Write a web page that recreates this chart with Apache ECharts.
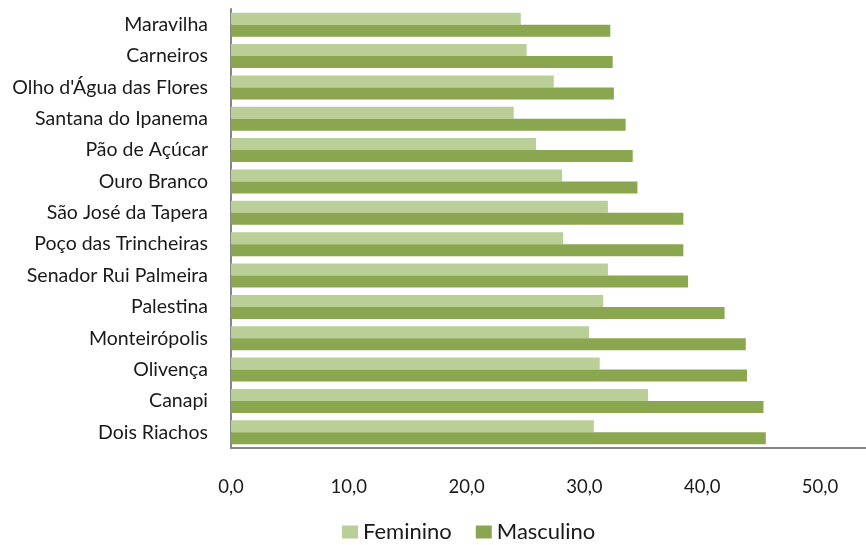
<!DOCTYPE html>
<html>
<head>
<meta charset="utf-8">
<script src="https://cdn.jsdelivr.net/npm/echarts@6/dist/echarts.min.js"></script>
<style>
  html, body { margin: 0; padding: 0; background: #ffffff; }
  #chart { width: 866px; height: 545px; }
</style>
</head>
<body>
<div id="chart"></div>
<script>
// Municipalities, listed top to bottom
const categories = [
  'Maravilha', 'Carneiros', "Olho d'Água das Flores", 'Santana do Ipanema',
  'Pão de Açúcar', 'Ouro Branco', 'São José da Tapera', 'Poço das Trincheiras',
  'Senador Rui Palmeira', 'Palestina', 'Monteirópolis', 'Olivença',
  'Canapi', 'Dois Riachos'
];
const feminino = [24.6, 25.1, 27.4, 24.0, 25.9, 28.1, 32.0, 28.2, 32.0, 31.6, 30.4, 31.3, 35.4, 30.8];
const masculino = [32.2, 32.4, 32.5, 33.5, 34.1, 34.5, 38.4, 38.4, 38.8, 41.9, 43.7, 43.8, 45.2, 45.4];
const xTicks = [0, 10, 20, 30, 40, 50, 60];

const FONT = 'Lato, "Open Sans", sans-serif';
const chart = echarts.init(document.getElementById('chart'), null, { renderer: 'canvas' });

// the value axis runs past the right edge of the canvas
const pxPerUnit = 11.78;
chart.setOption({
  animation: false,
  textStyle: { fontFamily: FONT },
  legend: {
    data: ['Feminino', 'Masculino'],
    left: 337,
    top: 516,
    icon: 'rect',
    itemWidth: 16,
    itemHeight: 13,
    itemGap: 24,
    textStyle: { fontSize: 22, color: '#1a1a1a', fontFamily: FONT }
  },
  grid: {
    left: 231, top: 9, bottom: 97,
    right: 866 - (231 + 60 * pxPerUnit),
    containLabel: false,
    outerBoundsMode: 'none'
  },
  xAxis: {
    type: 'value',
    min: xTicks[0],
    max: xTicks[xTicks.length - 1],
    interval: 10,
    splitLine: { show: false },
    axisTick: { show: false },
    axisLine: { show: true, lineStyle: { color: '#868686', width: 2 } },
    axisLabel: {
      margin: 30,
      fontSize: 18.5,
      color: '#1a1a1a',
      fontFamily: FONT,
      formatter: v => v.toFixed(1).replace('.', ',')
    }
  },
  yAxis: {
    type: 'category',
    data: categories,
    inverse: true,
    axisTick: { show: false },
    axisLine: { show: true, lineStyle: { color: '#868686', width: 2 } },
    axisLabel: { margin: 23, fontSize: 19.5, color: '#1a1a1a', fontFamily: FONT }
  },
  series: [
    {
      name: 'Feminino',
      type: 'bar',
      data: feminino,
      barWidth: 12,
      barGap: '0%',
      itemStyle: { color: '#BACF98' }
    },
    {
      name: 'Masculino',
      type: 'bar',
      data: masculino,
      barWidth: 12,
      barGap: '0%',
      itemStyle: { color: '#8AA64E' }
    }
  ]
});
</script>
</body>
</html>
